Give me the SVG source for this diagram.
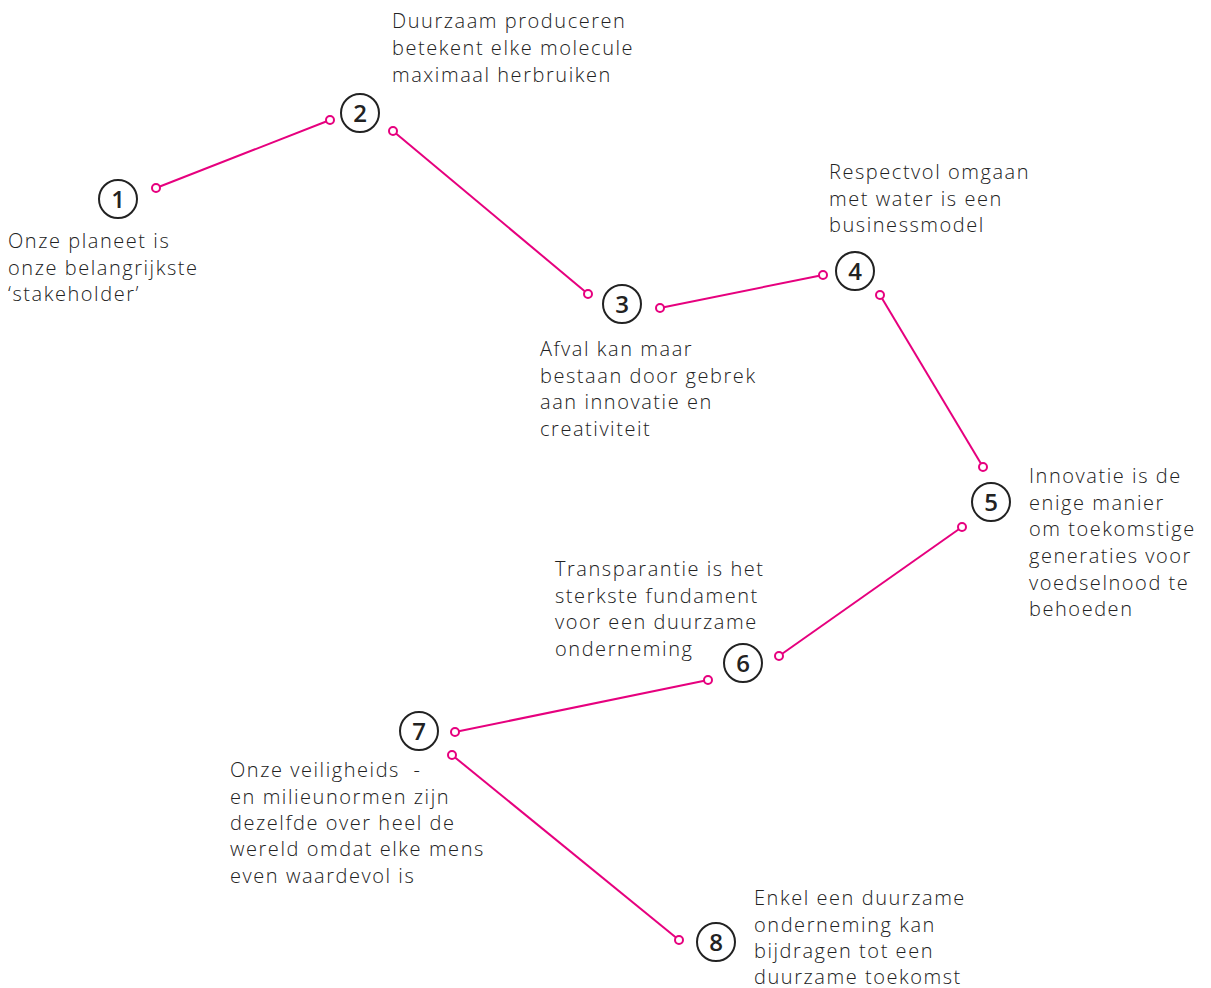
<svg xmlns="http://www.w3.org/2000/svg" width="1211" height="988" viewBox="0 0 1211 988">
<style>
.t{font-family:"Open Sans","Liberation Sans",sans-serif;font-weight:300;font-size:20px;fill:#222;letter-spacing:1.55px}
.c{fill:none;stroke:#222;stroke-width:2}
.n{font-family:"Open Sans","Liberation Sans",sans-serif;font-weight:600;font-size:24px;fill:#222;text-anchor:middle}
.l{stroke:#e6007e;stroke-width:2;fill:none}
.d{fill:#fff;stroke:#e6007e;stroke-width:2}
</style>
<rect width="1211" height="988" fill="#fff"/>
<g id="connectors">
<line class="l" x1="156" y1="188" x2="330" y2="120"/>
<line class="l" x1="393" y1="131" x2="588" y2="294"/>
<line class="l" x1="660" y1="308" x2="823" y2="275"/>
<line class="l" x1="880" y1="295" x2="983" y2="467"/>
<line class="l" x1="962" y1="527" x2="779" y2="656"/>
<line class="l" x1="708" y1="680" x2="455" y2="732"/>
<line class="l" x1="452" y1="755" x2="679" y2="940"/>
<circle class="d" cx="156" cy="188" r="4"/><circle class="d" cx="330" cy="120" r="4"/>
<circle class="d" cx="393" cy="131" r="4"/><circle class="d" cx="588" cy="294" r="4"/>
<circle class="d" cx="660" cy="308" r="4"/><circle class="d" cx="823" cy="275" r="4"/>
<circle class="d" cx="880" cy="295" r="4"/><circle class="d" cx="983" cy="467" r="4"/>
<circle class="d" cx="962" cy="527" r="4"/><circle class="d" cx="779" cy="656" r="4"/>
<circle class="d" cx="708" cy="680" r="4"/><circle class="d" cx="455" cy="732" r="4"/>
<circle class="d" cx="452" cy="755" r="4"/><circle class="d" cx="679" cy="940" r="4"/>
</g>
<g id="node1">
<circle class="c" cx="118" cy="199" r="19"/><text class="n" x="118" y="208">1</text>
<text class="t" x="8" y="248">Onze planeet is</text>
<text class="t" x="8" y="275">onze belangrijkste</text>
<text class="t" x="8" y="301">‘stakeholder’</text>
</g>
<g id="node2">
<circle class="c" cx="360" cy="113" r="19"/><text class="n" x="360" y="122">2</text>
<text class="t" x="392" y="28">Duurzaam produceren</text>
<text class="t" x="392" y="55">betekent elke molecule</text>
<text class="t" x="392" y="82">maximaal herbruiken</text>
</g>
<g id="node3">
<circle class="c" cx="622" cy="304" r="19"/><text class="n" x="622" y="313">3</text>
<text class="t" x="540" y="356">Afval kan maar</text>
<text class="t" x="540" y="383">bestaan door gebrek</text>
<text class="t" x="540" y="409">aan innovatie en</text>
<text class="t" x="540" y="436">creativiteit</text>
</g>
<g id="node4">
<circle class="c" cx="855" cy="271" r="19"/><text class="n" x="855" y="280">4</text>
<text class="t" x="829" y="179">Respectvol omgaan</text>
<text class="t" x="829" y="206">met water is een</text>
<text class="t" x="829" y="232">businessmodel</text>
</g>
<g id="node5">
<circle class="c" cx="991" cy="502" r="19"/><text class="n" x="991" y="511">5</text>
<text class="t" x="1029" y="483">Innovatie is de</text>
<text class="t" x="1029" y="510">enige manier</text>
<text class="t" x="1029" y="536">om toekomstige</text>
<text class="t" x="1029" y="563">generaties voor</text>
<text class="t" x="1029" y="590">voedselnood te</text>
<text class="t" x="1029" y="616">behoeden</text>
</g>
<g id="node6">
<circle class="c" cx="743" cy="663" r="19"/><text class="n" x="743" y="672">6</text>
<text class="t" x="555" y="576">Transparantie is het</text>
<text class="t" x="555" y="603">sterkste fundament</text>
<text class="t" x="555" y="629">voor een duurzame</text>
<text class="t" x="555" y="656">onderneming</text>
</g>
<g id="node7">
<circle class="c" cx="419" cy="731" r="19"/><text class="n" x="419" y="740">7</text>
<text class="t" x="230" y="777" style="white-space:pre">Onze veiligheids  -</text>
<text class="t" x="230" y="804">en milieunormen zijn</text>
<text class="t" x="230" y="830">dezelfde over heel de</text>
<text class="t" x="230" y="856">wereld omdat elke mens</text>
<text class="t" x="230" y="883">even waardevol is</text>
</g>
<g id="node8">
<circle class="c" cx="716" cy="942" r="19"/><text class="n" x="716" y="951">8</text>
<text class="t" x="754" y="905">Enkel een duurzame</text>
<text class="t" x="754" y="932">onderneming kan</text>
<text class="t" x="754" y="958">bijdragen tot een</text>
<text class="t" x="754" y="984">duurzame toekomst</text>
</g>
</svg>
